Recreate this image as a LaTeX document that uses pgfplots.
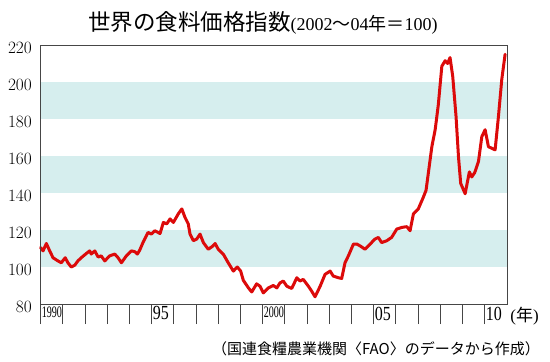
\documentclass[border=0pt]{standalone}
\usepackage{fontspec}
\usepackage{graphicx}
\usepackage{pgfplots}
\pgfplotsset{compat=1.18}
\setmainfont{Liberation Serif}
\newfontfamily\cjk{Noto Sans CJK JP}
\definecolor{band}{RGB}{214,238,238}
\definecolor{redline}{RGB}{220,10,10}
\definecolor{framegray}{RGB}{70,70,70}

\pgfplotstableread{
x y
1990.00 110.5
1990.11 108.7
1990.26 112.7
1990.41 108.7
1990.56 105
1990.78 103.3
1990.93 102.3
1991.11 105
1991.23 102.3
1991.38 100
1991.54 101
1991.68 103.3
1991.83 105
1992.06 107.3
1992.21 108.7
1992.28 107
1992.44 108.7
1992.59 105.4
1992.73 106
1992.89 103.3
1993.11 106
1993.34 107
1993.49 105
1993.64 102.3
1993.86 106
1994.09 108.7
1994.24 108.3
1994.36 107
1994.46 109
1994.61 113.2
1994.84 118.7
1994.99 117.8
1995.14 119.6
1995.38 118.1
1995.53 124.1
1995.68 123.3
1995.83 126
1995.98 124.1
1996.20 128.7
1996.36 131.4
1996.50 126.9
1996.65 123.3
1996.73 117.8
1996.88 114.2
1997.03 115.1
1997.18 117.8
1997.33 113.2
1997.55 109.6
1997.71 110.9
1997.86 112.7
1998.00 109.6
1998.23 106.9
1998.45 102.3
1998.68 97.8
1998.86 100
1999.01 97.8
1999.13 92.8
1999.36 88.7
1999.51 86.5
1999.73 90.9
1999.88 89.6
2000.03 86
2000.26 88.7
2000.48 90
2000.64 88.7
2000.78 91.4
2000.93 92.4
2001.09 89.6
2001.31 88.4
2001.54 94.2
2001.68 92.4
2001.83 93.3
2002.06 89.6
2002.21 86.9
2002.36 83.9
2002.59 89.6
2002.81 96
2003.04 97.8
2003.18 95.1
2003.41 94.2
2003.56 93.8
2003.71 102.3
2003.86 106
2004.09 112.4
2004.24 112.4
2004.39 111.4
2004.61 109.6
2004.84 112.4
2005.06 115.1
2005.21 116
2005.36 113.2
2005.59 114.2
2005.81 116
2006.04 120.5
2006.27 121.4
2006.49 121.8
2006.64 119.6
2006.79 128.7
2007.01 131.4
2007.24 137.8
2007.36 141.5
2007.46 150.5
2007.62 165
2007.77 174.2
2007.91 187.5
2008.07 208.5
2008.22 211.5
2008.33 210
2008.44 213.2
2008.56 203.2
2008.71 181.4
2008.82 159.6
2008.92 145.2
2009.12 139.6
2009.31 151.4
2009.42 148.7
2009.55 151
2009.72 157
2009.87 170.4
2010.02 174.2
2010.17 165
2010.32 164.2
2010.47 163.3
2010.62 181.4
2010.77 201.4
2010.92 215
}\fpi

\begin{document}
\begin{tikzpicture}
\useasboundingbox (-40.6pt,-58pt) rectangle (509.4pt,304pt);
\begin{axis}[
  at={(0pt,0pt)}, anchor=south west,
  scale only axis, width=467.4pt, height=259pt,
  xmin=1990, xmax=2011.05, ymin=80, ymax=220,
  axis on top,
  clip=false,
  axis line style={draw=framegray, line width=1pt},
  xtick={1990,...,2010},
  xticklabels={\scalebox{0.63}[1]{\fontsize{16}{16}\selectfont 1990},,,,,\scalebox{0.8}[1]{95},,,,,\scalebox{0.63}[1]{\fontsize{16}{16}\selectfont 2000},,,,,\scalebox{0.8}[1]{05},,,,,\scalebox{0.8}[1]{10}},
  ytick={80,100,...,220},
  xtick pos=left, ytick pos=left,
  tick align=outside,
  major tick length=20pt,
  xtick style={draw=framegray, line width=0.9pt},
  ytick style={draw opacity=0},
  x tick label style={font=\fontsize{20}{20}\selectfont, anchor=north west, inner sep=0pt, xshift=1pt, yshift=17.5pt},
  y tick label style={font=\fontsize{16}{16}\selectfont, anchor=east, inner sep=0pt, xshift=11.4pt, yshift=-3pt},
]
\addplot[fill=band, draw=none, forget plot] coordinates {(1990,100) (2011.05,100) (2011.05,120) (1990,120)} --cycle;
\addplot[fill=band, draw=none, forget plot] coordinates {(1990,140) (2011.05,140) (2011.05,160) (1990,160)} --cycle;
\addplot[fill=band, draw=none, forget plot] coordinates {(1990,180) (2011.05,180) (2011.05,200) (1990,200)} --cycle;
\addplot[redline, line width=3pt, line join=round, line cap=round, no markers] table[x=x, y=y] {\fpi};
\end{axis}
\node[anchor=north west, inner sep=0pt] at (469.6pt,-2.5pt) {\fontsize{17}{17}\selectfont ({\cjk 年})};
\node[anchor=base west, inner sep=0pt] at (47.4pt,273pt) {{\cjk\fontsize{22.5}{24}\selectfont 世界の食料価格指数}{\fontsize{18}{18}\selectfont (2002{\cjk 〜}04{\cjk 年＝}100)}};
\node[anchor=east, inner sep=0pt] at (499.4pt,-45pt) {\cjk\fontsize{15}{16}\selectfont （国連食糧農業機関〈FAO〉のデータから作成）};
\end{tikzpicture}
\end{document}
